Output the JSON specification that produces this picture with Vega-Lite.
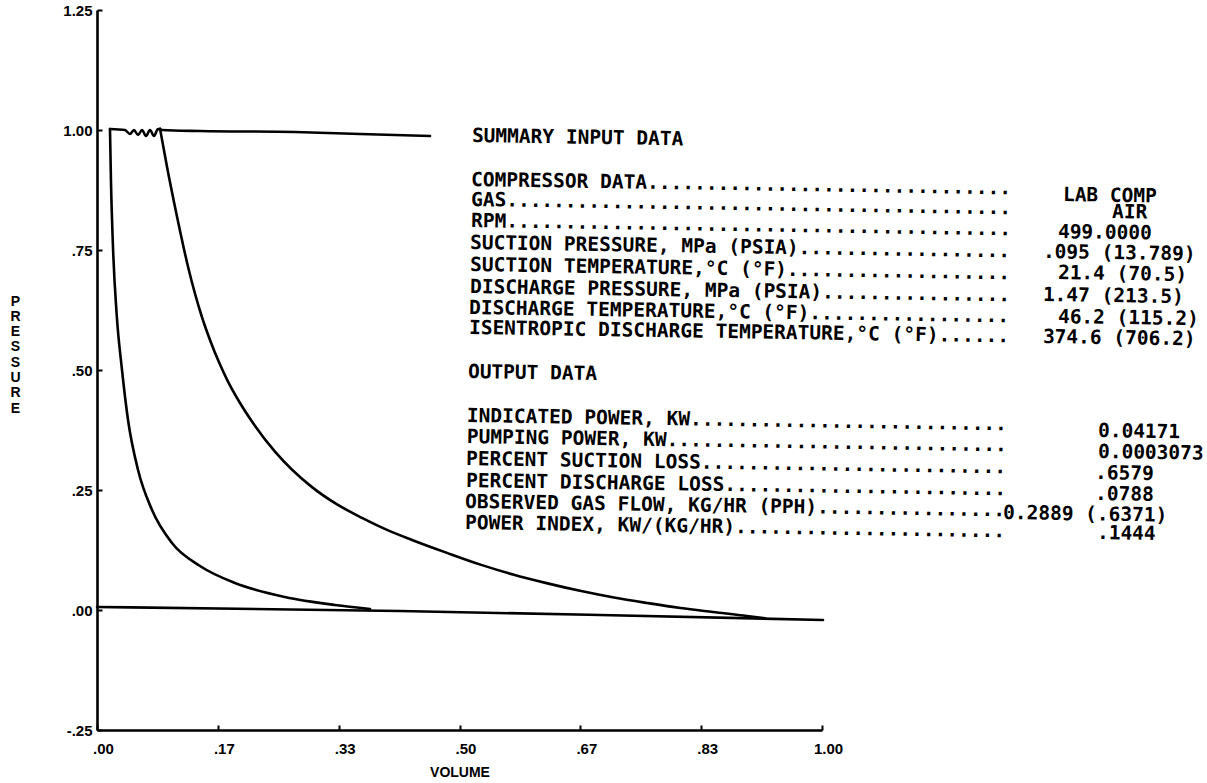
{
  "$schema": "https://vega.github.io/schema/vega-lite/v6.json",
  "autosize": {"type": "none"},
  "padding": {"left": 97, "top": 10, "right": 385, "bottom": 53},
  "width": 725,
  "height": 720,
  "background": "white",
  "config": {"view": {"stroke": null}},
  "datasets": {
    "curves": [
      {"s": "discharge", "i": 0, "x": 0.0179, "y": 1.0021},
      {"s": "discharge", "i": 1, "x": 0.0386, "y": 1.0},
      {"s": "discharge", "i": 2, "x": 0.0455, "y": 0.9917},
      {"s": "discharge", "i": 3, "x": 0.051, "y": 1.0},
      {"s": "discharge", "i": 4, "x": 0.0566, "y": 0.9896},
      {"s": "discharge", "i": 5, "x": 0.0621, "y": 1.0},
      {"s": "discharge", "i": 6, "x": 0.0676, "y": 0.9875},
      {"s": "discharge", "i": 7, "x": 0.0731, "y": 1.0},
      {"s": "discharge", "i": 8, "x": 0.0786, "y": 0.9875},
      {"s": "discharge", "i": 9, "x": 0.0841, "y": 1.0021},
      {"s": "discharge", "i": 10, "x": 0.0897, "y": 1.0},
      {"s": "discharge", "i": 11, "x": 0.1421, "y": 0.9979},
      {"s": "discharge", "i": 12, "x": 0.2731, "y": 0.9958},
      {"s": "discharge", "i": 13, "x": 0.3628, "y": 0.9917},
      {"s": "discharge", "i": 14, "x": 0.4593, "y": 0.9875},
      {"s": "compression", "i": 0, "x": 0.0869, "y": 1.003},
      {"s": "compression", "i": 1, "x": 0.0961, "y": 0.927},
      {"s": "compression", "i": 2, "x": 0.1099, "y": 0.823},
      {"s": "compression", "i": 3, "x": 0.1259, "y": 0.713},
      {"s": "compression", "i": 4, "x": 0.1444, "y": 0.612},
      {"s": "compression", "i": 5, "x": 0.156, "y": 0.562},
      {"s": "compression", "i": 6, "x": 0.168, "y": 0.517},
      {"s": "compression", "i": 7, "x": 0.18, "y": 0.478},
      {"s": "compression", "i": 8, "x": 0.195, "y": 0.437},
      {"s": "compression", "i": 9, "x": 0.215, "y": 0.39},
      {"s": "compression", "i": 10, "x": 0.2455, "y": 0.33},
      {"s": "compression", "i": 11, "x": 0.2966, "y": 0.256},
      {"s": "compression", "i": 12, "x": 0.33, "y": 0.221},
      {"s": "compression", "i": 13, "x": 0.3655, "y": 0.192},
      {"s": "compression", "i": 14, "x": 0.4, "y": 0.167},
      {"s": "compression", "i": 15, "x": 0.4345, "y": 0.146},
      {"s": "compression", "i": 16, "x": 0.4828, "y": 0.119},
      {"s": "compression", "i": 17, "x": 0.53, "y": 0.094},
      {"s": "compression", "i": 18, "x": 0.5738, "y": 0.074},
      {"s": "compression", "i": 19, "x": 0.62, "y": 0.056},
      {"s": "compression", "i": 20, "x": 0.6662, "y": 0.04},
      {"s": "compression", "i": 21, "x": 0.713, "y": 0.026},
      {"s": "compression", "i": 22, "x": 0.7586, "y": 0.0146},
      {"s": "compression", "i": 23, "x": 0.805, "y": 0.004},
      {"s": "compression", "i": 24, "x": 0.8497, "y": -0.0042},
      {"s": "compression", "i": 25, "x": 0.8966, "y": -0.0125},
      {"s": "compression", "i": 26, "x": 0.9214, "y": -0.0175},
      {"s": "reexpansion", "i": 0, "x": 0.0179, "y": 1.0021},
      {"s": "reexpansion", "i": 1, "x": 0.0193, "y": 0.8917},
      {"s": "reexpansion", "i": 2, "x": 0.0221, "y": 0.7542},
      {"s": "reexpansion", "i": 3, "x": 0.0272, "y": 0.6146},
      {"s": "reexpansion", "i": 4, "x": 0.0345, "y": 0.5},
      {"s": "reexpansion", "i": 5, "x": 0.0428, "y": 0.3958},
      {"s": "reexpansion", "i": 6, "x": 0.0566, "y": 0.2917},
      {"s": "reexpansion", "i": 7, "x": 0.0759, "y": 0.2083},
      {"s": "reexpansion", "i": 8, "x": 0.1034, "y": 0.1396},
      {"s": "reexpansion", "i": 9, "x": 0.1421, "y": 0.0917},
      {"s": "reexpansion", "i": 10, "x": 0.1903, "y": 0.0563},
      {"s": "reexpansion", "i": 11, "x": 0.2593, "y": 0.0271},
      {"s": "reexpansion", "i": 12, "x": 0.3283, "y": 0.0104},
      {"s": "reexpansion", "i": 13, "x": 0.3766, "y": 0.0021},
      {"s": "suction", "i": 0, "x": 0.0, "y": 0.0063},
      {"s": "suction", "i": 1, "x": 0.4179, "y": -0.0021},
      {"s": "suction", "i": 2, "x": 0.6938, "y": -0.0104},
      {"s": "suction", "i": 3, "x": 1.0014, "y": -0.0208}
    ],
    "texts": [
      {"x": 0.5172, "y": 0.9875, "t": "SUMMARY INPUT DATA"},
      {"x": 0.5159, "y": 0.8958, "t": "COMPRESSOR DATA..............................."},
      {"x": 0.5159, "y": 0.8542, "t": "GAS..........................................."},
      {"x": 0.5159, "y": 0.8104, "t": "RPM..........................................."},
      {"x": 0.5145, "y": 0.7646, "t": "SUCTION PRESSURE, MPa (PSIA).................."},
      {"x": 0.5145, "y": 0.7188, "t": "SUCTION TEMPERATURE,°C (°F)..................."},
      {"x": 0.5145, "y": 0.6729, "t": "DISCHARGE PRESSURE, MPa (PSIA)................"},
      {"x": 0.5131, "y": 0.6292, "t": "DISCHARGE TEMPERATURE,°C (°F)................."},
      {"x": 0.5131, "y": 0.5875, "t": "ISENTROPIC DISCHARGE TEMPERATURE,°C (°F)......"},
      {"x": 0.5117, "y": 0.4958, "t": "OUTPUT DATA"},
      {"x": 0.5103, "y": 0.4042, "t": "INDICATED POWER, KW..........................."},
      {"x": 0.5103, "y": 0.3604, "t": "PUMPING POWER, KW............................."},
      {"x": 0.509, "y": 0.3146, "t": "PERCENT SUCTION LOSS.........................."},
      {"x": 0.509, "y": 0.2688, "t": "PERCENT DISCHARGE LOSS........................"},
      {"x": 0.5076, "y": 0.225, "t": "OBSERVED GAS FLOW, KG/HR (PPH)................"},
      {"x": 0.5076, "y": 0.1813, "t": "POWER INDEX, KW/(KG/HR)......................."},
      {"x": 1.3324, "y": 0.8646, "t": "LAB COMP"},
      {"x": 1.4, "y": 0.8292, "t": "AIR"},
      {"x": 1.3255, "y": 0.7875, "t": "499.0000"},
      {"x": 1.3048, "y": 0.7458, "t": ".095 (13.789)"},
      {"x": 1.3255, "y": 0.7021, "t": "21.4 (70.5)"},
      {"x": 1.3048, "y": 0.6563, "t": "1.47 (213.5)"},
      {"x": 1.3255, "y": 0.6104, "t": "46.2 (115.2)"},
      {"x": 1.3048, "y": 0.5688, "t": "374.6 (706.2)"},
      {"x": 1.3807, "y": 0.3729, "t": "0.04171"},
      {"x": 1.3807, "y": 0.3292, "t": "0.0003073"},
      {"x": 1.3766, "y": 0.2854, "t": ".6579"},
      {"x": 1.3766, "y": 0.2417, "t": ".0788"},
      {"x": 1.2497, "y": 0.2021, "t": "0.2889 (.6371)"},
      {"x": 1.3793, "y": 0.1604, "t": ".1444"}
    ]
  },
  "encoding": {
    "x": {
      "field": "x", "type": "quantitative",
      "scale": {"domain": [0, 1], "nice": false, "zero": false},
      "axis": {
        "values": [0, 0.16667, 0.33333, 0.5, 0.66667, 0.83333, 1],
        "labelExpr": "datum.value >= 0.999 ? '1.00' : substring(format(datum.value, '.2f'), 1)",
        "title": "VOLUME",
        "titleFont": "Liberation Sans", "titleFontSize": 14, "titleFontWeight": "bold", "titleColor": "black",
        "titleBaseline": "middle", "titleY": 42, "titlePadding": 0,
        "labelFont": "Liberation Sans", "labelFontSize": 15, "labelFontWeight": "bold", "labelColor": "black",
        "labelPadding": 16, "labelOffset": 6, "labelFlush": false, "labelOverlap": false,
        "grid": false, "domainColor": "black", "domainWidth": 2.6,
        "ticks": true, "tickSize": -5, "tickColor": "black", "tickWidth": 2
      }
    },
    "y": {
      "field": "y", "type": "quantitative",
      "scale": {"domain": [-0.25, 1.25], "nice": false, "zero": false},
      "axis": {
        "values": [-0.25, 0, 0.25, 0.5, 0.75, 1, 1.25],
        "labelExpr": "datum.value >= 1 ? format(datum.value, '.2f') : datum.value < 0 ? '-' + substring(format(-datum.value, '.2f'), 1) : substring(format(datum.value, '.2f'), 1)",
        "title": ["P", "R", "E", "S", "S", "U", "R", "E"],
        "titleAngle": 0, "titleAlign": "center", "titleBaseline": "top",
        "titleX": -82, "titleY": 284, "titleLineHeight": 15.3,
        "titleFont": "Liberation Sans", "titleFontSize": 14, "titleFontWeight": "bold", "titleColor": "black",
        "labelFont": "Liberation Sans", "labelFontSize": 15, "labelFontWeight": "bold", "labelColor": "black",
        "labelPadding": 10, "labelFlush": false, "labelOverlap": false,
        "grid": false, "domainColor": "black", "domainWidth": 2.6,
        "ticks": true, "tickSize": -5, "tickColor": "black", "tickWidth": 2
      }
    }
  },
  "layer": [
    {
      "data": {"name": "curves"},
      "mark": {"type": "line", "color": "black", "strokeWidth": 2.6, "strokeJoin": "round", "strokeCap": "round", "interpolate": "monotone"},
      "encoding": {
        "detail": {"field": "s", "type": "nominal"},
        "order": {"field": "i", "type": "quantitative"}
      }
    },
    {
      "data": {"name": "texts"},
      "mark": {"type": "text", "align": "left", "baseline": "middle", "font": "DejaVu Sans Mono", "fontSize": 19.5, "fontWeight": "bold", "angle": 0.9, "color": "black"},
      "encoding": {
        "text": {"field": "t", "type": "nominal"}
      }
    }
  ]
}
